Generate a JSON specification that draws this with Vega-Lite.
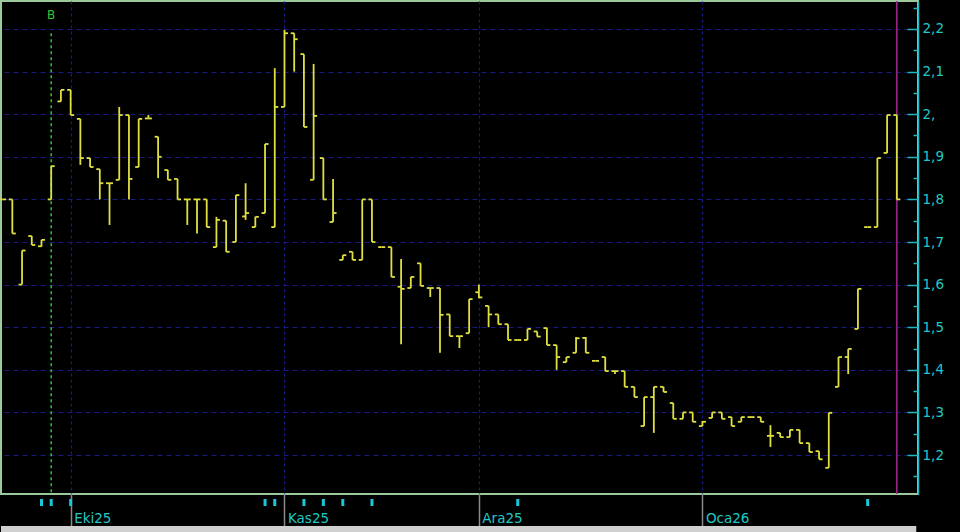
{
  "$schema": "https://vega.github.io/schema/vega-lite/v6.json",
  "width": 917,
  "height": 493,
  "autosize": {"type": "none"},
  "padding": {"left": 1, "top": 1, "right": 42, "bottom": 38},
  "background": "#000000",
  "config": {"view": {"stroke": "#9cc89c", "strokeWidth": 2, "fill": "#000000"}, "font": "DejaVu Sans"},
  "resolve": {"axis": {"x": "independent", "y": "independent"}},
  "datasets": {
    "ohlc": [
      {"i":0,"d":"2025-09-22","o":1.8,"h":1.8,"l":1.8,"c":1.8},
      {"i":1,"d":"2025-09-23","o":1.8,"h":1.8,"l":1.72,"c":1.72},
      {"i":2,"d":"2025-09-24","o":1.6,"h":1.68,"l":1.6,"c":1.68},
      {"i":3,"d":"2025-09-25","o":1.714,"h":1.714,"l":1.693,"c":1.693},
      {"i":4,"d":"2025-09-26","o":1.69,"h":1.705,"l":1.689,"c":1.705},
      {"i":5,"d":"2025-09-29","o":1.8,"h":1.878,"l":1.8,"c":1.878},
      {"i":6,"d":"2025-09-30","o":2.03,"h":2.057,"l":2.03,"c":2.057},
      {"i":7,"d":"2025-10-01","o":2.057,"h":2.057,"l":1.998,"c":1.998},
      {"i":8,"d":"2025-10-02","o":1.989,"h":1.989,"l":1.881,"c":1.897},
      {"i":9,"d":"2025-10-03","o":1.897,"h":1.897,"l":1.876,"c":1.876},
      {"i":10,"d":"2025-10-06","o":1.871,"h":1.871,"l":1.8,"c":1.838},
      {"i":11,"d":"2025-10-07","o":1.838,"h":1.838,"l":1.74,"c":1.838},
      {"i":12,"d":"2025-10-08","o":1.846,"h":2.017,"l":1.846,"c":1.998},
      {"i":13,"d":"2025-10-09","o":1.998,"h":1.998,"l":1.8,"c":1.848},
      {"i":14,"d":"2025-10-10","o":1.876,"h":1.989,"l":1.876,"c":1.989},
      {"i":15,"d":"2025-10-13","o":1.99,"h":1.998,"l":1.99,"c":1.99},
      {"i":16,"d":"2025-10-14","o":1.947,"h":1.947,"l":1.85,"c":1.9},
      {"i":17,"d":"2025-10-15","o":1.869,"h":1.869,"l":1.846,"c":1.846},
      {"i":18,"d":"2025-10-16","o":1.848,"h":1.848,"l":1.8,"c":1.8},
      {"i":19,"d":"2025-10-17","o":1.8,"h":1.8,"l":1.74,"c":1.8},
      {"i":20,"d":"2025-10-20","o":1.8,"h":1.8,"l":1.72,"c":1.8},
      {"i":21,"d":"2025-10-21","o":1.8,"h":1.8,"l":1.735,"c":1.735},
      {"i":22,"d":"2025-10-22","o":1.688,"h":1.759,"l":1.688,"c":1.752},
      {"i":23,"d":"2025-10-23","o":1.75,"h":1.75,"l":1.677,"c":1.677},
      {"i":24,"d":"2025-10-24","o":1.7,"h":1.81,"l":1.7,"c":1.81},
      {"i":25,"d":"2025-10-27","o":1.76,"h":1.838,"l":1.752,"c":1.768},
      {"i":26,"d":"2025-10-28","o":1.735,"h":1.759,"l":1.735,"c":1.759},
      {"i":27,"d":"2025-10-30","o":1.768,"h":1.93,"l":1.768,"c":1.93},
      {"i":28,"d":"2025-10-31","o":1.735,"h":2.108,"l":1.735,"c":2.017},
      {"i":29,"d":"2025-11-03","o":2.017,"h":2.198,"l":2.017,"c":2.19},
      {"i":30,"d":"2025-11-04","o":2.19,"h":2.19,"l":2.1,"c":2.176},
      {"i":31,"d":"2025-11-05","o":2.141,"h":2.141,"l":1.97,"c":1.97},
      {"i":32,"d":"2025-11-06","o":1.846,"h":2.118,"l":1.846,"c":1.996},
      {"i":33,"d":"2025-11-07","o":1.897,"h":1.897,"l":1.8,"c":1.8},
      {"i":34,"d":"2025-11-10","o":1.747,"h":1.848,"l":1.747,"c":1.768},
      {"i":35,"d":"2025-11-11","o":1.658,"h":1.669,"l":1.658,"c":1.669},
      {"i":36,"d":"2025-11-12","o":1.677,"h":1.677,"l":1.658,"c":1.658},
      {"i":37,"d":"2025-11-13","o":1.658,"h":1.8,"l":1.658,"c":1.8},
      {"i":38,"d":"2025-11-14","o":1.8,"h":1.8,"l":1.7,"c":1.7},
      {"i":39,"d":"2025-11-17","o":1.688,"h":1.688,"l":1.688,"c":1.688},
      {"i":40,"d":"2025-11-18","o":1.688,"h":1.688,"l":1.618,"c":1.618},
      {"i":41,"d":"2025-11-19","o":1.595,"h":1.66,"l":1.46,"c":1.59},
      {"i":42,"d":"2025-11-20","o":1.592,"h":1.618,"l":1.592,"c":1.618},
      {"i":43,"d":"2025-11-21","o":1.65,"h":1.65,"l":1.597,"c":1.597},
      {"i":44,"d":"2025-11-24","o":1.592,"h":1.592,"l":1.571,"c":1.592},
      {"i":45,"d":"2025-11-25","o":1.592,"h":1.592,"l":1.44,"c":1.529},
      {"i":46,"d":"2025-11-26","o":1.53,"h":1.53,"l":1.479,"c":1.479},
      {"i":47,"d":"2025-11-27","o":1.479,"h":1.479,"l":1.451,"c":1.479},
      {"i":48,"d":"2025-11-28","o":1.486,"h":1.566,"l":1.486,"c":1.566},
      {"i":49,"d":"2025-12-01","o":1.582,"h":1.6,"l":1.568,"c":1.57},
      {"i":50,"d":"2025-12-02","o":1.55,"h":1.55,"l":1.5,"c":1.53},
      {"i":51,"d":"2025-12-03","o":1.53,"h":1.53,"l":1.507,"c":1.507},
      {"i":52,"d":"2025-12-04","o":1.507,"h":1.507,"l":1.47,"c":1.47},
      {"i":53,"d":"2025-12-05","o":1.47,"h":1.47,"l":1.47,"c":1.47},
      {"i":54,"d":"2025-12-08","o":1.47,"h":1.496,"l":1.47,"c":1.496},
      {"i":55,"d":"2025-12-09","o":1.49,"h":1.49,"l":1.478,"c":1.478},
      {"i":56,"d":"2025-12-10","o":1.498,"h":1.498,"l":1.458,"c":1.458},
      {"i":57,"d":"2025-12-11","o":1.458,"h":1.458,"l":1.4,"c":1.43},
      {"i":58,"d":"2025-12-12","o":1.418,"h":1.43,"l":1.418,"c":1.43},
      {"i":59,"d":"2025-12-15","o":1.44,"h":1.477,"l":1.44,"c":1.474},
      {"i":60,"d":"2025-12-16","o":1.475,"h":1.477,"l":1.44,"c":1.44},
      {"i":61,"d":"2025-12-17","o":1.421,"h":1.421,"l":1.421,"c":1.421},
      {"i":62,"d":"2025-12-18","o":1.43,"h":1.43,"l":1.397,"c":1.397},
      {"i":63,"d":"2025-12-19","o":1.397,"h":1.397,"l":1.39,"c":1.397},
      {"i":64,"d":"2025-12-22","o":1.397,"h":1.397,"l":1.36,"c":1.36},
      {"i":65,"d":"2025-12-23","o":1.36,"h":1.36,"l":1.336,"c":1.336},
      {"i":66,"d":"2025-12-24","o":1.268,"h":1.336,"l":1.268,"c":1.336},
      {"i":67,"d":"2025-12-25","o":1.336,"h":1.36,"l":1.252,"c":1.36},
      {"i":68,"d":"2025-12-26","o":1.36,"h":1.36,"l":1.348,"c":1.348},
      {"i":69,"d":"2025-12-29","o":1.322,"h":1.322,"l":1.285,"c":1.285},
      {"i":70,"d":"2025-12-30","o":1.285,"h":1.3,"l":1.285,"c":1.3},
      {"i":71,"d":"2025-12-31","o":1.3,"h":1.3,"l":1.278,"c":1.278},
      {"i":72,"d":"2026-01-02","o":1.268,"h":1.28,"l":1.268,"c":1.278},
      {"i":73,"d":"2026-01-05","o":1.287,"h":1.3,"l":1.287,"c":1.3},
      {"i":74,"d":"2026-01-06","o":1.3,"h":1.3,"l":1.285,"c":1.285},
      {"i":75,"d":"2026-01-07","o":1.289,"h":1.289,"l":1.268,"c":1.268},
      {"i":76,"d":"2026-01-08","o":1.278,"h":1.289,"l":1.278,"c":1.289},
      {"i":77,"d":"2026-01-09","o":1.289,"h":1.289,"l":1.289,"c":1.289},
      {"i":78,"d":"2026-01-12","o":1.289,"h":1.289,"l":1.278,"c":1.278},
      {"i":79,"d":"2026-01-13","o":1.245,"h":1.27,"l":1.219,"c":1.245},
      {"i":80,"d":"2026-01-14","o":1.252,"h":1.252,"l":1.242,"c":1.242},
      {"i":81,"d":"2026-01-15","o":1.242,"h":1.259,"l":1.242,"c":1.259},
      {"i":82,"d":"2026-01-16","o":1.259,"h":1.259,"l":1.228,"c":1.228},
      {"i":83,"d":"2026-01-19","o":1.228,"h":1.228,"l":1.207,"c":1.207},
      {"i":84,"d":"2026-01-20","o":1.209,"h":1.209,"l":1.19,"c":1.19},
      {"i":85,"d":"2026-01-21","o":1.17,"h":1.299,"l":1.17,"c":1.299},
      {"i":86,"d":"2026-01-22","o":1.36,"h":1.43,"l":1.36,"c":1.43},
      {"i":87,"d":"2026-01-23","o":1.43,"h":1.449,"l":1.39,"c":1.449},
      {"i":88,"d":"2026-01-26","o":1.496,"h":1.59,"l":1.496,"c":1.59},
      {"i":89,"d":"2026-01-27","o":1.735,"h":1.735,"l":1.735,"c":1.735},
      {"i":90,"d":"2026-01-28","o":1.735,"h":1.897,"l":1.735,"c":1.897},
      {"i":91,"d":"2026-01-29","o":1.909,"h":1.998,"l":1.909,"c":1.998},
      {"i":92,"d":"2026-01-30","o":1.998,"h":1.998,"l":1.8,"c":1.8}
    ],
    "events": [{"i":4},{"i":5},{"i":7},{"i":27},{"i":28},{"i":31},{"i":33},{"i":35},{"i":38},{"i":53},{"i":89}],
    "signals": [{"i":5,"label":"B"}],
    "cursor": [{"i":92}],
    "frame": [{"x0":-0.165,"x1":94.0}]
  },
  "layer": [
    {
      "data": {"name": "ohlc"},
      "mark": {"type": "rule", "color": "#dcdc3c", "strokeWidth": 1.5, "opacity": 0},
      "encoding": {
        "x": {"field": "i", "type": "quantitative", "scale": {"domain": [-0.165, 94.18], "nice": false, "zero": false},
          "axis": {"orient": "bottom", "values": [7, 29, 49, 72], "title": null, "domain": false, "grid": true, "gridColor": "#1a1a84", "gridDash": [3, 3], "gridWidth": 1.2,
            "tickColor": "#8a8a8a", "tickSize": 32, "tickWidth": 1.5,
            "labelExpr": "datum.value == 7 ? 'Eki25' : datum.value == 29 ? 'Kas25' : datum.value == 49 ? 'Ara25' : 'Oca26'",
            "labelAlign": "left", "labelBaseline": "alphabetic", "labelOffset": 3, "labelPadding": -4, "labelColor": "#20c8c8", "labelFontSize": 13.5, "labelOverlap": false, "labelBound": false, "labelFlush": false}},
        "y": {"field": "l", "type": "quantitative", "scale": {"domain": [1.1085, 2.2657], "nice": false, "zero": false},
          "axis": {"orient": "right", "title": null,
            "values": [1.15, 1.2, 1.25, 1.3, 1.35, 1.4, 1.45, 1.5, 1.55, 1.6, 1.65, 1.7, 1.75, 1.8, 1.85, 1.9, 1.95, 2.0, 2.05, 2.1, 2.15, 2.2, 2.25],
            "domainColor": "#20b8c0", "domainWidth": 1.5, "tickColor": "#20b8c0", "tickWidth": 1.5,
            "tickSize": {"condition": {"test": "abs(datum.value*10 - round(datum.value*10)) < 0.01", "value": -11}, "value": -5},
            "grid": true, "gridColor": "#1a1a84", "gridDash": [5, 4], "gridWidth": 1.2,
            "gridOpacity": {"condition": {"test": "abs(datum.value*10 - round(datum.value*10)) < 0.01", "value": 1}, "value": 0},
            "labelExpr": "abs(datum.value*10 - round(datum.value*10)) < 0.01 ? (round(datum.value*10) == 20 ? '2,' : replace(format(datum.value, '.1f'), '.', ',')) : ''",
            "labelColor": "#20c8c8", "labelFontSize": 13.5, "labelPadding": 15, "labelBaseline": "middle", "labelOverlap": false, "labelBound": false, "labelFlush": false}},
        "y2": {"field": "h"}
      }
    },
    {
      "data": {"name": "cursor"},
      "mark": {"type": "rule", "color": "#a0288f", "strokeWidth": 1.5},
      "encoding": {"x": {"field": "i", "type": "quantitative", "scale": {"domain": [-0.165, 94.18], "nice": false, "zero": false}, "axis": null}}
    },
    {
      "data": {"name": "signals"},
      "mark": {"type": "rule", "color": "#28c828", "strokeWidth": 1.5, "strokeDash": [3, 3]},
      "encoding": {
        "x": {"field": "i", "type": "quantitative", "scale": {"domain": [-0.165, 94.18], "nice": false, "zero": false}, "axis": null},
        "y": {"datum": 2.19, "type": "quantitative", "scale": {"domain": [1.1085, 2.2657], "nice": false, "zero": false}, "axis": null},
        "y2": {"datum": 1.1085}
      }
    },
    {
      "data": {"name": "signals"},
      "mark": {"type": "text", "color": "#30c830", "fontSize": 12, "align": "center", "baseline": "middle"},
      "encoding": {
        "x": {"field": "i", "type": "quantitative", "scale": {"domain": [-0.165, 94.18], "nice": false, "zero": false}, "axis": null},
        "y": {"datum": 2.233, "type": "quantitative", "scale": {"domain": [1.1085, 2.2657], "nice": false, "zero": false}, "axis": null},
        "text": {"field": "label"}
      }
    },
    {
      "data": {"name": "ohlc"},
      "mark": {"type": "rule", "color": "#e0e040", "strokeWidth": 1.8},
      "encoding": {
        "x": {"field": "i", "type": "quantitative", "scale": {"domain": [-0.165, 94.18], "nice": false, "zero": false}, "axis": null},
        "y": {"field": "l", "type": "quantitative", "scale": {"domain": [1.1085, 2.2657], "nice": false, "zero": false}, "axis": null},
        "y2": {"field": "h"}
      }
    },
    {
      "data": {"name": "ohlc"},
      "mark": {"type": "rule", "color": "#e0e040", "strokeWidth": 1.8, "xOffset": -3.5, "x2Offset": 0},
      "encoding": {
        "x": {"field": "i", "type": "quantitative", "scale": {"domain": [-0.165, 94.18], "nice": false, "zero": false}, "axis": null},
        "x2": {"field": "i"},
        "y": {"field": "o", "type": "quantitative", "scale": {"domain": [1.1085, 2.2657], "nice": false, "zero": false}, "axis": null}
      }
    },
    {
      "data": {"name": "ohlc"},
      "mark": {"type": "rule", "color": "#e0e040", "strokeWidth": 1.8, "xOffset": 0, "x2Offset": 3.5},
      "encoding": {
        "x": {"field": "i", "type": "quantitative", "scale": {"domain": [-0.165, 94.18], "nice": false, "zero": false}, "axis": null},
        "x2": {"field": "i"},
        "y": {"field": "c", "type": "quantitative", "scale": {"domain": [1.1085, 2.2657], "nice": false, "zero": false}, "axis": null}
      }
    },
    {
      "data": {"name": "events"},
      "mark": {"type": "rule", "color": "#18c8d8", "strokeWidth": 3},
      "encoding": {
        "x": {"field": "i", "type": "quantitative", "scale": {"domain": [-0.165, 94.18], "nice": false, "zero": false}, "axis": null},
        "y": {"datum": 1.0967, "type": "quantitative", "scale": {"domain": [1.1085, 2.2657], "nice": false, "zero": false}, "axis": null},
        "y2": {"datum": 1.0803}
      }
    },
    {
      "data": {"name": "frame"},
      "mark": {"type": "rect", "color": "#d0d0d0"},
      "encoding": {
        "x": {"field": "x0", "type": "quantitative", "scale": {"domain": [-0.165, 94.18], "nice": false, "zero": false}, "axis": null},
        "x2": {"field": "x1"},
        "y": {"datum": 1.0333, "type": "quantitative", "scale": {"domain": [1.1085, 2.2657], "nice": false, "zero": false}, "axis": null},
        "y2": {"datum": 1.0192}
      }
    }
  ]
}
